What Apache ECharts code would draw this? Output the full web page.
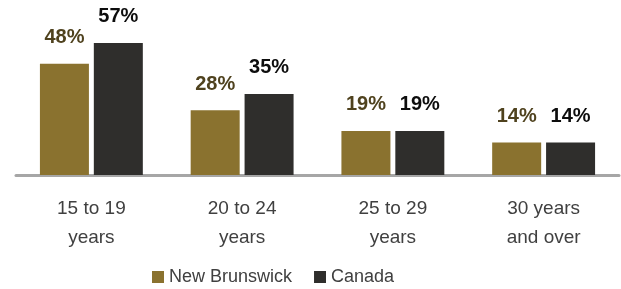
<!DOCTYPE html>
<html>
<head>
<meta charset="utf-8">
<script src="https://cdn.jsdelivr.net/npm/echarts@6/dist/echarts.min.js"></script>
<style>
  html, body { margin: 0; padding: 0; background: #fff; }
  #chart { width: 621px; height: 289px; }
</style>
</head>
<body>
<div id="chart"></div>
<script>
// age groups and shares (%)
const categories = ['15 to 19\nyears', '20 to 24\nyears', '25 to 29\nyears', '30 years\nand over']
const newBrunswick = [48, 28, 19, 14]
const canada = [57, 35, 19, 14]

const font = '"Liberation Sans", Arial, sans-serif'

const chart = echarts.init(document.getElementById('chart'))
chart.setOption({
  animation: false,
  textStyle: { fontFamily: font },
  grid: { left: 16, right: 2, top: 36, bottom: 114 },
  legend: {
    top: 263,
    left: 147,
    itemWidth: 12,
    itemHeight: 12,
    itemGap: 22,
    icon: 'rect',
    textStyle: { fontSize: 18, color: '#404040', fontFamily: font },
    data: ['New Brunswick', 'Canada']
  },
  xAxis: {
    type: 'category',
    data: categories,
    axisLine: { lineStyle: { color: '#a6a6a6', width: 3 } },
    axisTick: { show: false },
    axisLabel: {
      fontSize: 19,
      lineHeight: 29,
      color: '#404040',
      margin: 19,
      interval: 0
    }
  },
  yAxis: {
    type: 'value',
    min: 0,
    max: 60,
    show: false,
    splitLine: { show: false }
  },
  series: [
    {
      name: 'New Brunswick',
      type: 'bar',
      data: newBrunswick,
      barWidth: 49,
      barGap: '10%',
      itemStyle: { color: '#8a722f' },
      label: {
        show: true,
        position: 'top',
        distance: 16,
        formatter: '{c}%',
        fontSize: 20,
        fontWeight: 'bold',
        color: '#4f421e'
      }
    },
    {
      name: 'Canada',
      type: 'bar',
      data: canada,
      barWidth: 49,
      itemStyle: { color: '#2f2e2c' },
      label: {
        show: true,
        position: 'top',
        distance: 16,
        formatter: '{c}%',
        fontSize: 20,
        fontWeight: 'bold',
        color: '#0d0d0d'
      }
    }
  ]
})
</script>
</body>
</html>
